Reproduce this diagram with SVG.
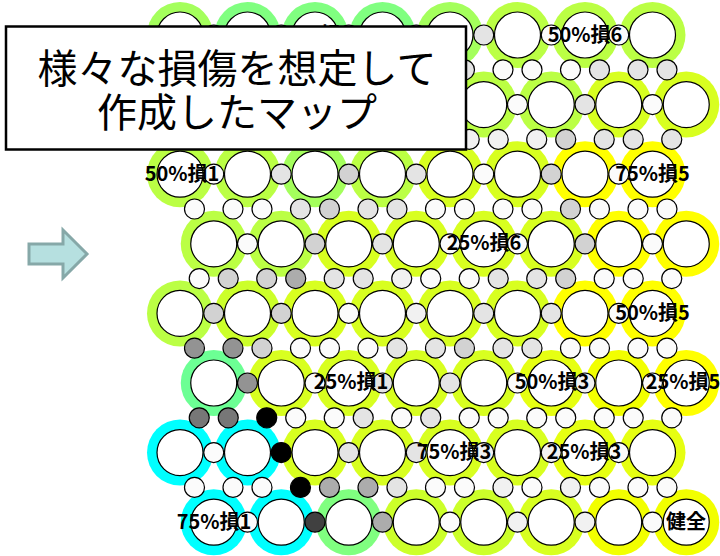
<svg xmlns="http://www.w3.org/2000/svg" width="720" height="556" viewBox="0 0 720 556">
<style>
.in{fill:#fff;stroke:#000;stroke-width:1.2}
.a{fill:#80ff80}.b{fill:#a4ff5c}.c{fill:#bbff44}.d{fill:#ccff2a}.e{fill:#d8ff20}.f{fill:#e6ff12}.y{fill:#ffff00}.y2{fill:#f2ff00}.h{fill:#00ffff}.m{fill:#6cff94}
.s{stroke:#000;stroke-width:1.2}
.w{fill:#fbfbfb}.l{fill:#f1f1f1}.l2{fill:#e4e4e4}.g{fill:#d2d2d2}.m1{fill:#acacac}.dd{fill:#939393}.d2{fill:#777777}.dk{fill:#404040}.k{fill:#000}
.lbl{font-family:"Noto Sans CJK JP","Noto Sans",sans-serif;font-weight:bold;font-size:20px;text-anchor:middle;fill:#000}
.ttl{font-family:"Noto Sans CJK JP","Noto Sans",sans-serif;font-size:40px;text-anchor:middle;fill:#000}
</style>
<rect width="720" height="556" fill="#fff"/>
<g id="arrow"><polygon points="29,244 63,244 63,230 87,254 63,278 63,264 29,264" fill="#b6e0e0" stroke="#86a8a8" stroke-width="3"/></g>
<g id="rings">
<circle class="b" cx="180" cy="35" r="33"/><circle class="a" cx="247.5" cy="35" r="33"/><circle class="a" cx="315" cy="35" r="33"/><circle class="a" cx="382.5" cy="35" r="33"/><circle class="b" cx="450" cy="35" r="33"/><circle class="c" cx="517.5" cy="35" r="33"/><circle class="c" cx="585" cy="35" r="33"/><circle class="c" cx="652.5" cy="35" r="33"/>
<circle class="c" cx="213.75" cy="104.6" r="33"/><circle class="c" cx="281.25" cy="104.6" r="33"/><circle class="c" cx="348.75" cy="104.6" r="33"/><circle class="c" cx="416.25" cy="104.6" r="33"/><circle class="c" cx="483.75" cy="104.6" r="33"/><circle class="c" cx="551.25" cy="104.6" r="33"/><circle class="e" cx="618.75" cy="104.6" r="33"/><circle class="e" cx="686.25" cy="104.6" r="33"/>
<circle class="c" cx="180" cy="174.2" r="33"/><circle class="c" cx="247.5" cy="174.2" r="33"/><circle class="b" cx="315" cy="174.2" r="33"/><circle class="c" cx="382.5" cy="174.2" r="33"/><circle class="e" cx="450" cy="174.2" r="33"/><circle class="e" cx="517.5" cy="174.2" r="33"/><circle class="y" cx="585" cy="174.2" r="33"/><circle class="y" cx="652.5" cy="174.2" r="33"/>
<circle class="c" cx="213.75" cy="243.8" r="33"/><circle class="c" cx="281.25" cy="243.8" r="33"/><circle class="e" cx="348.75" cy="243.8" r="33"/><circle class="e" cx="416.25" cy="243.8" r="33"/><circle class="e" cx="483.75" cy="243.8" r="33"/><circle class="e" cx="551.25" cy="243.8" r="33"/><circle class="y" cx="618.75" cy="243.8" r="33"/><circle class="y" cx="686.25" cy="243.8" r="33"/>
<circle class="c" cx="180" cy="313.4" r="33"/><circle class="d" cx="247.5" cy="313.4" r="33"/><circle class="e" cx="315" cy="313.4" r="33"/><circle class="e" cx="382.5" cy="313.4" r="33"/><circle class="e" cx="450" cy="313.4" r="33"/><circle class="e" cx="517.5" cy="313.4" r="33"/><circle class="y" cx="585" cy="313.4" r="33"/><circle class="y" cx="652.5" cy="313.4" r="33"/>
<circle class="m" cx="213.75" cy="383" r="33"/><circle class="e" cx="281.25" cy="383" r="33"/><circle class="e" cx="348.75" cy="383" r="33"/><circle class="e" cx="416.25" cy="383" r="33"/><circle class="e" cx="483.75" cy="383" r="33"/><circle class="f" cx="551.25" cy="383" r="33"/><circle class="y2" cx="618.75" cy="383" r="33"/><circle class="y" cx="686.25" cy="383" r="33"/>
<circle class="h" cx="180" cy="452.6" r="33"/><circle class="h" cx="247.5" cy="452.6" r="33"/><circle class="e" cx="315" cy="452.6" r="33"/><circle class="e" cx="382.5" cy="452.6" r="33"/><circle class="e" cx="450" cy="452.6" r="33"/><circle class="e" cx="517.5" cy="452.6" r="33"/><circle class="f" cx="585" cy="452.6" r="33"/><circle class="f" cx="652.5" cy="452.6" r="33"/>
<circle class="h" cx="213.75" cy="522.2" r="33"/><circle class="h" cx="281.25" cy="522.2" r="33"/><circle class="a" cx="348.75" cy="522.2" r="33"/><circle class="d" cx="416.25" cy="522.2" r="33"/><circle class="d" cx="483.75" cy="522.2" r="33"/><circle class="e" cx="551.25" cy="522.2" r="33"/><circle class="y2" cx="618.75" cy="522.2" r="33"/><circle class="y2" cx="686.25" cy="522.2" r="33"/>
</g>
<g id="cells">
<circle class="in" cx="180" cy="35" r="23"/><circle class="in" cx="247.5" cy="35" r="23"/><circle class="in" cx="315" cy="35" r="23"/><circle class="in" cx="382.5" cy="35" r="23"/><circle class="in" cx="450" cy="35" r="23"/><circle class="in" cx="517.5" cy="35" r="23"/><circle class="in" cx="585" cy="35" r="23"/><circle class="in" cx="652.5" cy="35" r="23"/>
<circle class="in" cx="213.75" cy="104.6" r="23"/><circle class="in" cx="281.25" cy="104.6" r="23"/><circle class="in" cx="348.75" cy="104.6" r="23"/><circle class="in" cx="416.25" cy="104.6" r="23"/><circle class="in" cx="483.75" cy="104.6" r="23"/><circle class="in" cx="551.25" cy="104.6" r="23"/><circle class="in" cx="618.75" cy="104.6" r="23"/><circle class="in" cx="686.25" cy="104.6" r="23"/>
<circle class="in" cx="180" cy="174.2" r="23"/><circle class="in" cx="247.5" cy="174.2" r="23"/><circle class="in" cx="315" cy="174.2" r="23"/><circle class="in" cx="382.5" cy="174.2" r="23"/><circle class="in" cx="450" cy="174.2" r="23"/><circle class="in" cx="517.5" cy="174.2" r="23"/><circle class="in" cx="585" cy="174.2" r="23"/><circle class="in" cx="652.5" cy="174.2" r="23"/>
<circle class="in" cx="213.75" cy="243.8" r="23"/><circle class="in" cx="281.25" cy="243.8" r="23"/><circle class="in" cx="348.75" cy="243.8" r="23"/><circle class="in" cx="416.25" cy="243.8" r="23"/><circle class="in" cx="483.75" cy="243.8" r="23"/><circle class="in" cx="551.25" cy="243.8" r="23"/><circle class="in" cx="618.75" cy="243.8" r="23"/><circle class="in" cx="686.25" cy="243.8" r="23"/>
<circle class="in" cx="180" cy="313.4" r="23"/><circle class="in" cx="247.5" cy="313.4" r="23"/><circle class="in" cx="315" cy="313.4" r="23"/><circle class="in" cx="382.5" cy="313.4" r="23"/><circle class="in" cx="450" cy="313.4" r="23"/><circle class="in" cx="517.5" cy="313.4" r="23"/><circle class="in" cx="585" cy="313.4" r="23"/><circle class="in" cx="652.5" cy="313.4" r="23"/>
<circle class="in" cx="213.75" cy="383" r="23"/><circle class="in" cx="281.25" cy="383" r="23"/><circle class="in" cx="348.75" cy="383" r="23"/><circle class="in" cx="416.25" cy="383" r="23"/><circle class="in" cx="483.75" cy="383" r="23"/><circle class="in" cx="551.25" cy="383" r="23"/><circle class="in" cx="618.75" cy="383" r="23"/><circle class="in" cx="686.25" cy="383" r="23"/>
<circle class="in" cx="180" cy="452.6" r="23"/><circle class="in" cx="247.5" cy="452.6" r="23"/><circle class="in" cx="315" cy="452.6" r="23"/><circle class="in" cx="382.5" cy="452.6" r="23"/><circle class="in" cx="450" cy="452.6" r="23"/><circle class="in" cx="517.5" cy="452.6" r="23"/><circle class="in" cx="585" cy="452.6" r="23"/><circle class="in" cx="652.5" cy="452.6" r="23"/>
<circle class="in" cx="213.75" cy="522.2" r="23"/><circle class="in" cx="281.25" cy="522.2" r="23"/><circle class="in" cx="348.75" cy="522.2" r="23"/><circle class="in" cx="416.25" cy="522.2" r="23"/><circle class="in" cx="483.75" cy="522.2" r="23"/><circle class="in" cx="551.25" cy="522.2" r="23"/><circle class="in" cx="618.75" cy="522.2" r="23"/><circle class="in" cx="686.25" cy="522.2" r="23"/>
</g>
<g id="joints">
<circle class="s w" cx="213.75" cy="35" r="10"/><circle class="s w" cx="281.25" cy="35" r="10"/><circle class="s w" cx="348.75" cy="35" r="10"/><circle class="s w" cx="416.25" cy="35" r="10"/><circle class="s l2" cx="483.75" cy="35" r="10"/><circle class="s w" cx="551.25" cy="35" r="10"/><circle class="s w" cx="618.75" cy="35" r="10"/>
<circle class="s w" cx="194.5" cy="69.8" r="10"/><circle class="s w" cx="233" cy="69.8" r="10"/><circle class="s w" cx="262" cy="69.8" r="10"/><circle class="s w" cx="300.5" cy="69.8" r="10"/><circle class="s w" cx="329.5" cy="69.8" r="10"/><circle class="s w" cx="368" cy="69.8" r="10"/><circle class="s w" cx="397" cy="69.8" r="10"/><circle class="s w" cx="435.5" cy="69.8" r="10"/><circle class="s l2" cx="464.5" cy="69.8" r="10"/><circle class="s w" cx="503" cy="69.8" r="10"/><circle class="s w" cx="532" cy="69.8" r="10"/><circle class="s w" cx="570.5" cy="69.8" r="10"/><circle class="s l2" cx="599.5" cy="69.8" r="10"/><circle class="s l2" cx="638" cy="69.8" r="10"/><circle class="s l2" cx="667" cy="69.8" r="10"/>
<circle class="s w" cx="247.5" cy="104.6" r="10"/><circle class="s w" cx="315" cy="104.6" r="10"/><circle class="s w" cx="382.5" cy="104.6" r="10"/><circle class="s w" cx="450" cy="104.6" r="10"/><circle class="s w" cx="517.5" cy="104.6" r="10"/><circle class="s l2" cx="585" cy="104.6" r="10"/><circle class="s w" cx="652.5" cy="104.6" r="10"/>
<circle class="s w" cx="199.25" cy="139.4" r="10"/><circle class="s w" cx="228.25" cy="139.4" r="10"/><circle class="s w" cx="266.75" cy="139.4" r="10"/><circle class="s w" cx="295.75" cy="139.4" r="10"/><circle class="s w" cx="334.25" cy="139.4" r="10"/><circle class="s w" cx="363.25" cy="139.4" r="10"/><circle class="s w" cx="401.75" cy="139.4" r="10"/><circle class="s w" cx="430.75" cy="139.4" r="10"/><circle class="s l" cx="469.25" cy="139.4" r="10"/><circle class="s l" cx="498.25" cy="139.4" r="10"/><circle class="s l" cx="536.75" cy="139.4" r="10"/><circle class="s g" cx="565.75" cy="139.4" r="10"/><circle class="s l2" cx="604.25" cy="139.4" r="10"/><circle class="s l2" cx="633.25" cy="139.4" r="10"/><circle class="s l2" cx="671.75" cy="139.4" r="10"/>
<circle class="s w" cx="213.75" cy="174.2" r="10"/><circle class="s l2" cx="281.25" cy="174.2" r="10"/><circle class="s g" cx="348.75" cy="174.2" r="10"/><circle class="s l2" cx="416.25" cy="174.2" r="10"/><circle class="s w" cx="483.75" cy="174.2" r="10"/><circle class="s g" cx="551.25" cy="174.2" r="10"/><circle class="s w" cx="618.75" cy="174.2" r="10"/>
<circle class="s w" cx="194.5" cy="209" r="10"/><circle class="s w" cx="233" cy="209" r="10"/><circle class="s w" cx="262" cy="209" r="10"/><circle class="s l2" cx="300.5" cy="209" r="10"/><circle class="s g" cx="329.5" cy="209" r="10"/><circle class="s l2" cx="368" cy="209" r="10"/><circle class="s l2" cx="397" cy="209" r="10"/><circle class="s w" cx="435.5" cy="209" r="10"/><circle class="s w" cx="464.5" cy="209" r="10"/><circle class="s w" cx="503" cy="209" r="10"/><circle class="s w" cx="532" cy="209" r="10"/><circle class="s g" cx="570.5" cy="209" r="10"/><circle class="s w" cx="599.5" cy="209" r="10"/><circle class="s w" cx="638" cy="209" r="10"/><circle class="s w" cx="667" cy="209" r="10"/>
<circle class="s w" cx="247.5" cy="243.8" r="10"/><circle class="s g" cx="315" cy="243.8" r="10"/><circle class="s l2" cx="382.5" cy="243.8" r="10"/><circle class="s w" cx="450" cy="243.8" r="10"/><circle class="s w" cx="517.5" cy="243.8" r="10"/><circle class="s g" cx="585" cy="243.8" r="10"/><circle class="s w" cx="652.5" cy="243.8" r="10"/>
<circle class="s w" cx="199.25" cy="278.6" r="10"/><circle class="s g" cx="228.25" cy="278.6" r="10"/><circle class="s g" cx="266.75" cy="278.6" r="10"/><circle class="s m1" cx="295.75" cy="278.6" r="10"/><circle class="s l2" cx="334.25" cy="278.6" r="10"/><circle class="s l2" cx="363.25" cy="278.6" r="10"/><circle class="s l" cx="401.75" cy="278.6" r="10"/><circle class="s w" cx="430.75" cy="278.6" r="10"/><circle class="s w" cx="469.25" cy="278.6" r="10"/><circle class="s l2" cx="498.25" cy="278.6" r="10"/><circle class="s l2" cx="536.75" cy="278.6" r="10"/><circle class="s g" cx="565.75" cy="278.6" r="10"/><circle class="s w" cx="604.25" cy="278.6" r="10"/><circle class="s w" cx="633.25" cy="278.6" r="10"/><circle class="s w" cx="671.75" cy="278.6" r="10"/>
<circle class="s g" cx="213.75" cy="313.4" r="10"/><circle class="s g" cx="281.25" cy="313.4" r="10"/><circle class="s w" cx="348.75" cy="313.4" r="10"/><circle class="s l" cx="416.25" cy="313.4" r="10"/><circle class="s l2" cx="483.75" cy="313.4" r="10"/><circle class="s l2" cx="551.25" cy="313.4" r="10"/><circle class="s w" cx="618.75" cy="313.4" r="10"/>
<circle class="s dd" cx="194.5" cy="348.2" r="10"/><circle class="s dd" cx="233" cy="348.2" r="10"/><circle class="s g" cx="262" cy="348.2" r="10"/><circle class="s w" cx="300.5" cy="348.2" r="10"/><circle class="s w" cx="329.5" cy="348.2" r="10"/><circle class="s w" cx="368" cy="348.2" r="10"/><circle class="s l2" cx="397" cy="348.2" r="10"/><circle class="s l2" cx="435.5" cy="348.2" r="10"/><circle class="s g" cx="464.5" cy="348.2" r="10"/><circle class="s l2" cx="503" cy="348.2" r="10"/><circle class="s l2" cx="532" cy="348.2" r="10"/><circle class="s w" cx="570.5" cy="348.2" r="10"/><circle class="s w" cx="599.5" cy="348.2" r="10"/><circle class="s w" cx="638" cy="348.2" r="10"/><circle class="s w" cx="667" cy="348.2" r="10"/>
<circle class="s dd" cx="247.5" cy="383" r="10"/><circle class="s w" cx="315" cy="383" r="10"/><circle class="s l2" cx="382.5" cy="383" r="10"/><circle class="s l2" cx="450" cy="383" r="10"/><circle class="s w" cx="517.5" cy="383" r="10"/><circle class="s l" cx="585" cy="383" r="10"/><circle class="s w" cx="652.5" cy="383" r="10"/>
<circle class="s d2" cx="199.25" cy="417.8" r="10"/><circle class="s d2" cx="228.25" cy="417.8" r="10"/><circle class="s k" cx="266.75" cy="417.8" r="10"/><circle class="s w" cx="295.75" cy="417.8" r="10"/><circle class="s w" cx="334.25" cy="417.8" r="10"/><circle class="s l2" cx="363.25" cy="417.8" r="10"/><circle class="s w" cx="401.75" cy="417.8" r="10"/><circle class="s l2" cx="430.75" cy="417.8" r="10"/><circle class="s w" cx="469.25" cy="417.8" r="10"/><circle class="s w" cx="498.25" cy="417.8" r="10"/><circle class="s w" cx="536.75" cy="417.8" r="10"/><circle class="s w" cx="565.75" cy="417.8" r="10"/><circle class="s w" cx="604.25" cy="417.8" r="10"/><circle class="s w" cx="633.25" cy="417.8" r="10"/><circle class="s w" cx="671.75" cy="417.8" r="10"/>
<circle class="s w" cx="213.75" cy="452.6" r="10"/><circle class="s k" cx="281.25" cy="452.6" r="10"/><circle class="s l2" cx="348.75" cy="452.6" r="10"/><circle class="s l2" cx="416.25" cy="452.6" r="10"/><circle class="s l" cx="483.75" cy="452.6" r="10"/><circle class="s l" cx="551.25" cy="452.6" r="10"/><circle class="s w" cx="618.75" cy="452.6" r="10"/>
<circle class="s w" cx="194.5" cy="487.4" r="10"/><circle class="s w" cx="233" cy="487.4" r="10"/><circle class="s w" cx="262" cy="487.4" r="10"/><circle class="s k" cx="300.5" cy="487.4" r="10"/><circle class="s m1" cx="329.5" cy="487.4" r="10"/><circle class="s m1" cx="368" cy="487.4" r="10"/><circle class="s l2" cx="397" cy="487.4" r="10"/><circle class="s w" cx="435.5" cy="487.4" r="10"/><circle class="s w" cx="464.5" cy="487.4" r="10"/><circle class="s l" cx="503" cy="487.4" r="10"/><circle class="s w" cx="532" cy="487.4" r="10"/><circle class="s l" cx="570.5" cy="487.4" r="10"/><circle class="s w" cx="599.5" cy="487.4" r="10"/><circle class="s w" cx="638" cy="487.4" r="10"/><circle class="s w" cx="667" cy="487.4" r="10"/>
<circle class="s w" cx="247.5" cy="522.2" r="10"/><circle class="s dk" cx="315" cy="522.2" r="10"/><circle class="s m1" cx="382.5" cy="522.2" r="10"/><circle class="s w" cx="450" cy="522.2" r="10"/><circle class="s l" cx="517.5" cy="522.2" r="10"/><circle class="s l" cx="585" cy="522.2" r="10"/><circle class="s w" cx="652.5" cy="522.2" r="10"/>
</g>
<g id="labels">
<text class="lbl" x="315" y="42">75%損2</text>
<text class="lbl" x="585" y="42">50%損6</text>
<text class="lbl" x="182" y="181">50%損1</text>
<text class="lbl" x="652.5" y="181">75%損5</text>
<text class="lbl" x="484" y="250">25%損6</text>
<text class="lbl" x="652.5" y="320">50%損5</text>
<text class="lbl" x="351" y="389">25%損1</text>
<text class="lbl" x="552" y="389">50%損3</text>
<text class="lbl" x="683" y="389">25%損5</text>
<text class="lbl" x="454" y="459">75%損3</text>
<text class="lbl" x="584" y="459">25%損3</text>
<text class="lbl" x="214" y="529">75%損1</text>
<text class="lbl" x="686" y="529">健全</text>
</g>
<g id="title">
<rect x="6" y="26.5" width="460" height="123" fill="#fff" stroke="#000" stroke-width="2.5"/>
<text class="ttl" x="237" y="83">様々な損傷を想定して</text>
<text class="ttl" x="237" y="127">作成したマップ</text>
</g>
</svg>
